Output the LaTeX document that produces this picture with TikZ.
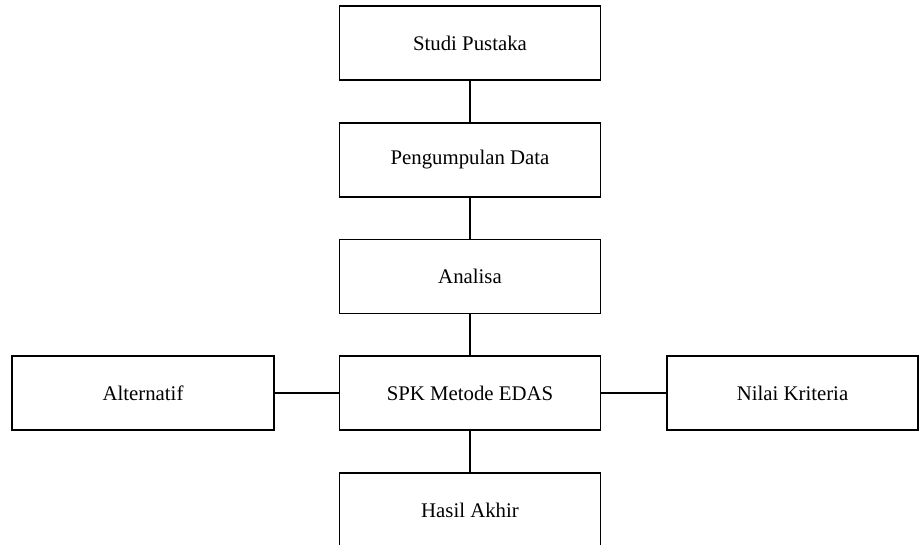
\documentclass[tikz,border=0pt]{standalone}
\usepackage{fontspec}
\setmainfont{Liberation Serif}
\begin{document}
\begin{tikzpicture}[x=1pt,y=-1pt,
  box/.style={draw,line width=1.2pt,minimum width=261pt,minimum height=74pt,inner sep=0pt,font=\fontsize{20.8}{24}\selectfont},
  link/.style={line width=1.2pt}]
\useasboundingbox (0,0) rectangle (919,544);
\clip (0,0) rectangle (919,544);
\node[box] (studi) at (470,43) {Studi Pustaka};
\node[box] (peng) at (470,160) {Pengumpulan Data};
\node[box] (anal) at (470,276.5) {Analisa};
\node[box] (spk) at (470,393) {SPK Metode EDAS};
\node[box] (hasil) at (470,510) {Hasil Akhir};
\node[box,minimum width=262pt] (alt) at (143,393) {Alternatif};
\node[box,minimum width=251pt] (nilai) at (792.5,393) {Nilai Kriteria};
\draw[link] (studi) -- (peng);
\draw[link] (peng) -- (anal);
\draw[link] (anal) -- (spk);
\draw[link] (spk) -- (hasil);
\draw[link] (alt) -- (spk);
\draw[link] (spk) -- (nilai);
\end{tikzpicture}
\end{document}
